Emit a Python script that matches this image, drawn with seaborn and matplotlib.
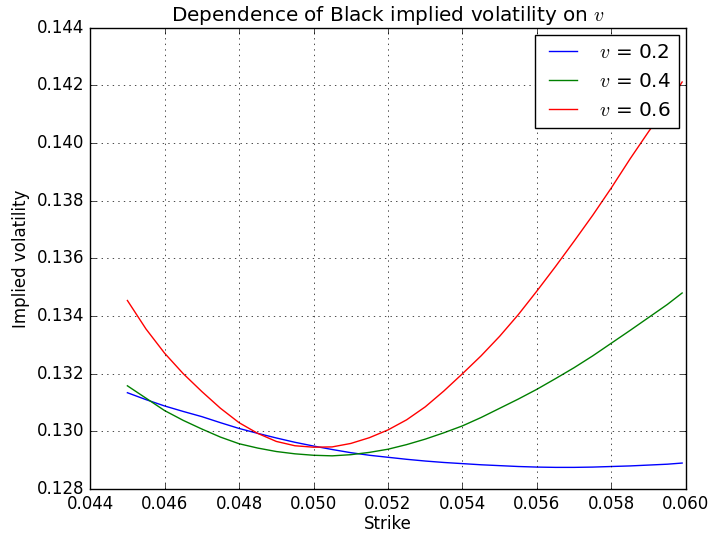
import matplotlib
matplotlib.use("Agg")
import matplotlib.pyplot as plt
import seaborn as sns
import pandas as pd
import numpy as np

plt.style.use("classic")

# values
strike = [0.0450, 0.0455, 0.0460, 0.0465, 0.0470, 0.0475, 0.0480, 0.0485,
          0.0490, 0.0495, 0.0500, 0.0505, 0.0510, 0.0515, 0.0520, 0.0525,
          0.0530, 0.0535, 0.0540, 0.0545, 0.0550, 0.0555, 0.0560, 0.0565,
          0.0570, 0.0575, 0.0580, 0.0585, 0.0590, 0.0595, 0.0599]
vol_02 = [0.13134, 0.13110, 0.13088, 0.13069, 0.13051, 0.13030, 0.13010, 0.12993,
          0.12977, 0.12962, 0.12949, 0.12937, 0.12926, 0.12917, 0.12910, 0.12903,
          0.12897, 0.12892, 0.12888, 0.12884, 0.12881, 0.12878, 0.12876, 0.12875,
          0.12875, 0.12876, 0.12878, 0.12880, 0.12883, 0.12886, 0.12890]
vol_04 = [0.13158, 0.13115, 0.13072, 0.13038, 0.13008, 0.12980, 0.12957, 0.12942,
          0.12930, 0.12922, 0.12917, 0.12915, 0.12919, 0.12927, 0.12938, 0.12954,
          0.12973, 0.12995, 0.13019, 0.13048, 0.13080, 0.13112, 0.13146, 0.13183,
          0.13221, 0.13262, 0.13306, 0.13350, 0.13395, 0.13440, 0.13480]
vol_06 = [0.13454, 0.13355, 0.13271, 0.13200, 0.13138, 0.13080, 0.13030, 0.12993,
          0.12965, 0.12950, 0.12945, 0.12946, 0.12958, 0.12978, 0.13005, 0.13040,
          0.13085, 0.13140, 0.13200, 0.13262, 0.13330, 0.13405, 0.13487, 0.13572,
          0.13660, 0.13750, 0.13845, 0.13945, 0.14040, 0.14130, 0.14212]
labels = ["$v$ = 0.2", "$v$ = 0.4", "$v$ = 0.6"]

df = pd.concat([
    pd.DataFrame({"strike": strike, "vol": v, "label": lab})
    for v, lab in zip([vol_02, vol_04, vol_06], labels)
])

fig = plt.figure(figsize=(7.1, 5.35), dpi=100)
fig.subplots_adjust(left=0.127, right=0.966, bottom=0.086, top=0.948)
ax = fig.add_subplot(111)

sns.lineplot(data=df, x="strike", y="vol", hue="label", palette=["b", "g", "r"],
             errorbar=None, legend=False, ax=ax, lw=1)

ax.set_xlim(0.044, 0.060)
ax.set_ylim(0.128, 0.144)
ax.set_xticks(np.arange(0.044, 0.0601, 0.002))
ax.set_yticks(np.arange(0.128, 0.1441, 0.002))
ax.grid(True)

ax.set_title("Dependence of Black implied volatility on $v$")
ax.set_xlabel("Strike", labelpad=2)
ax.set_ylabel("Implied volatility")
ax.legend(ax.lines, labels, loc="upper right", borderaxespad=0.35)

fig.savefig("out.png", dpi=100)
